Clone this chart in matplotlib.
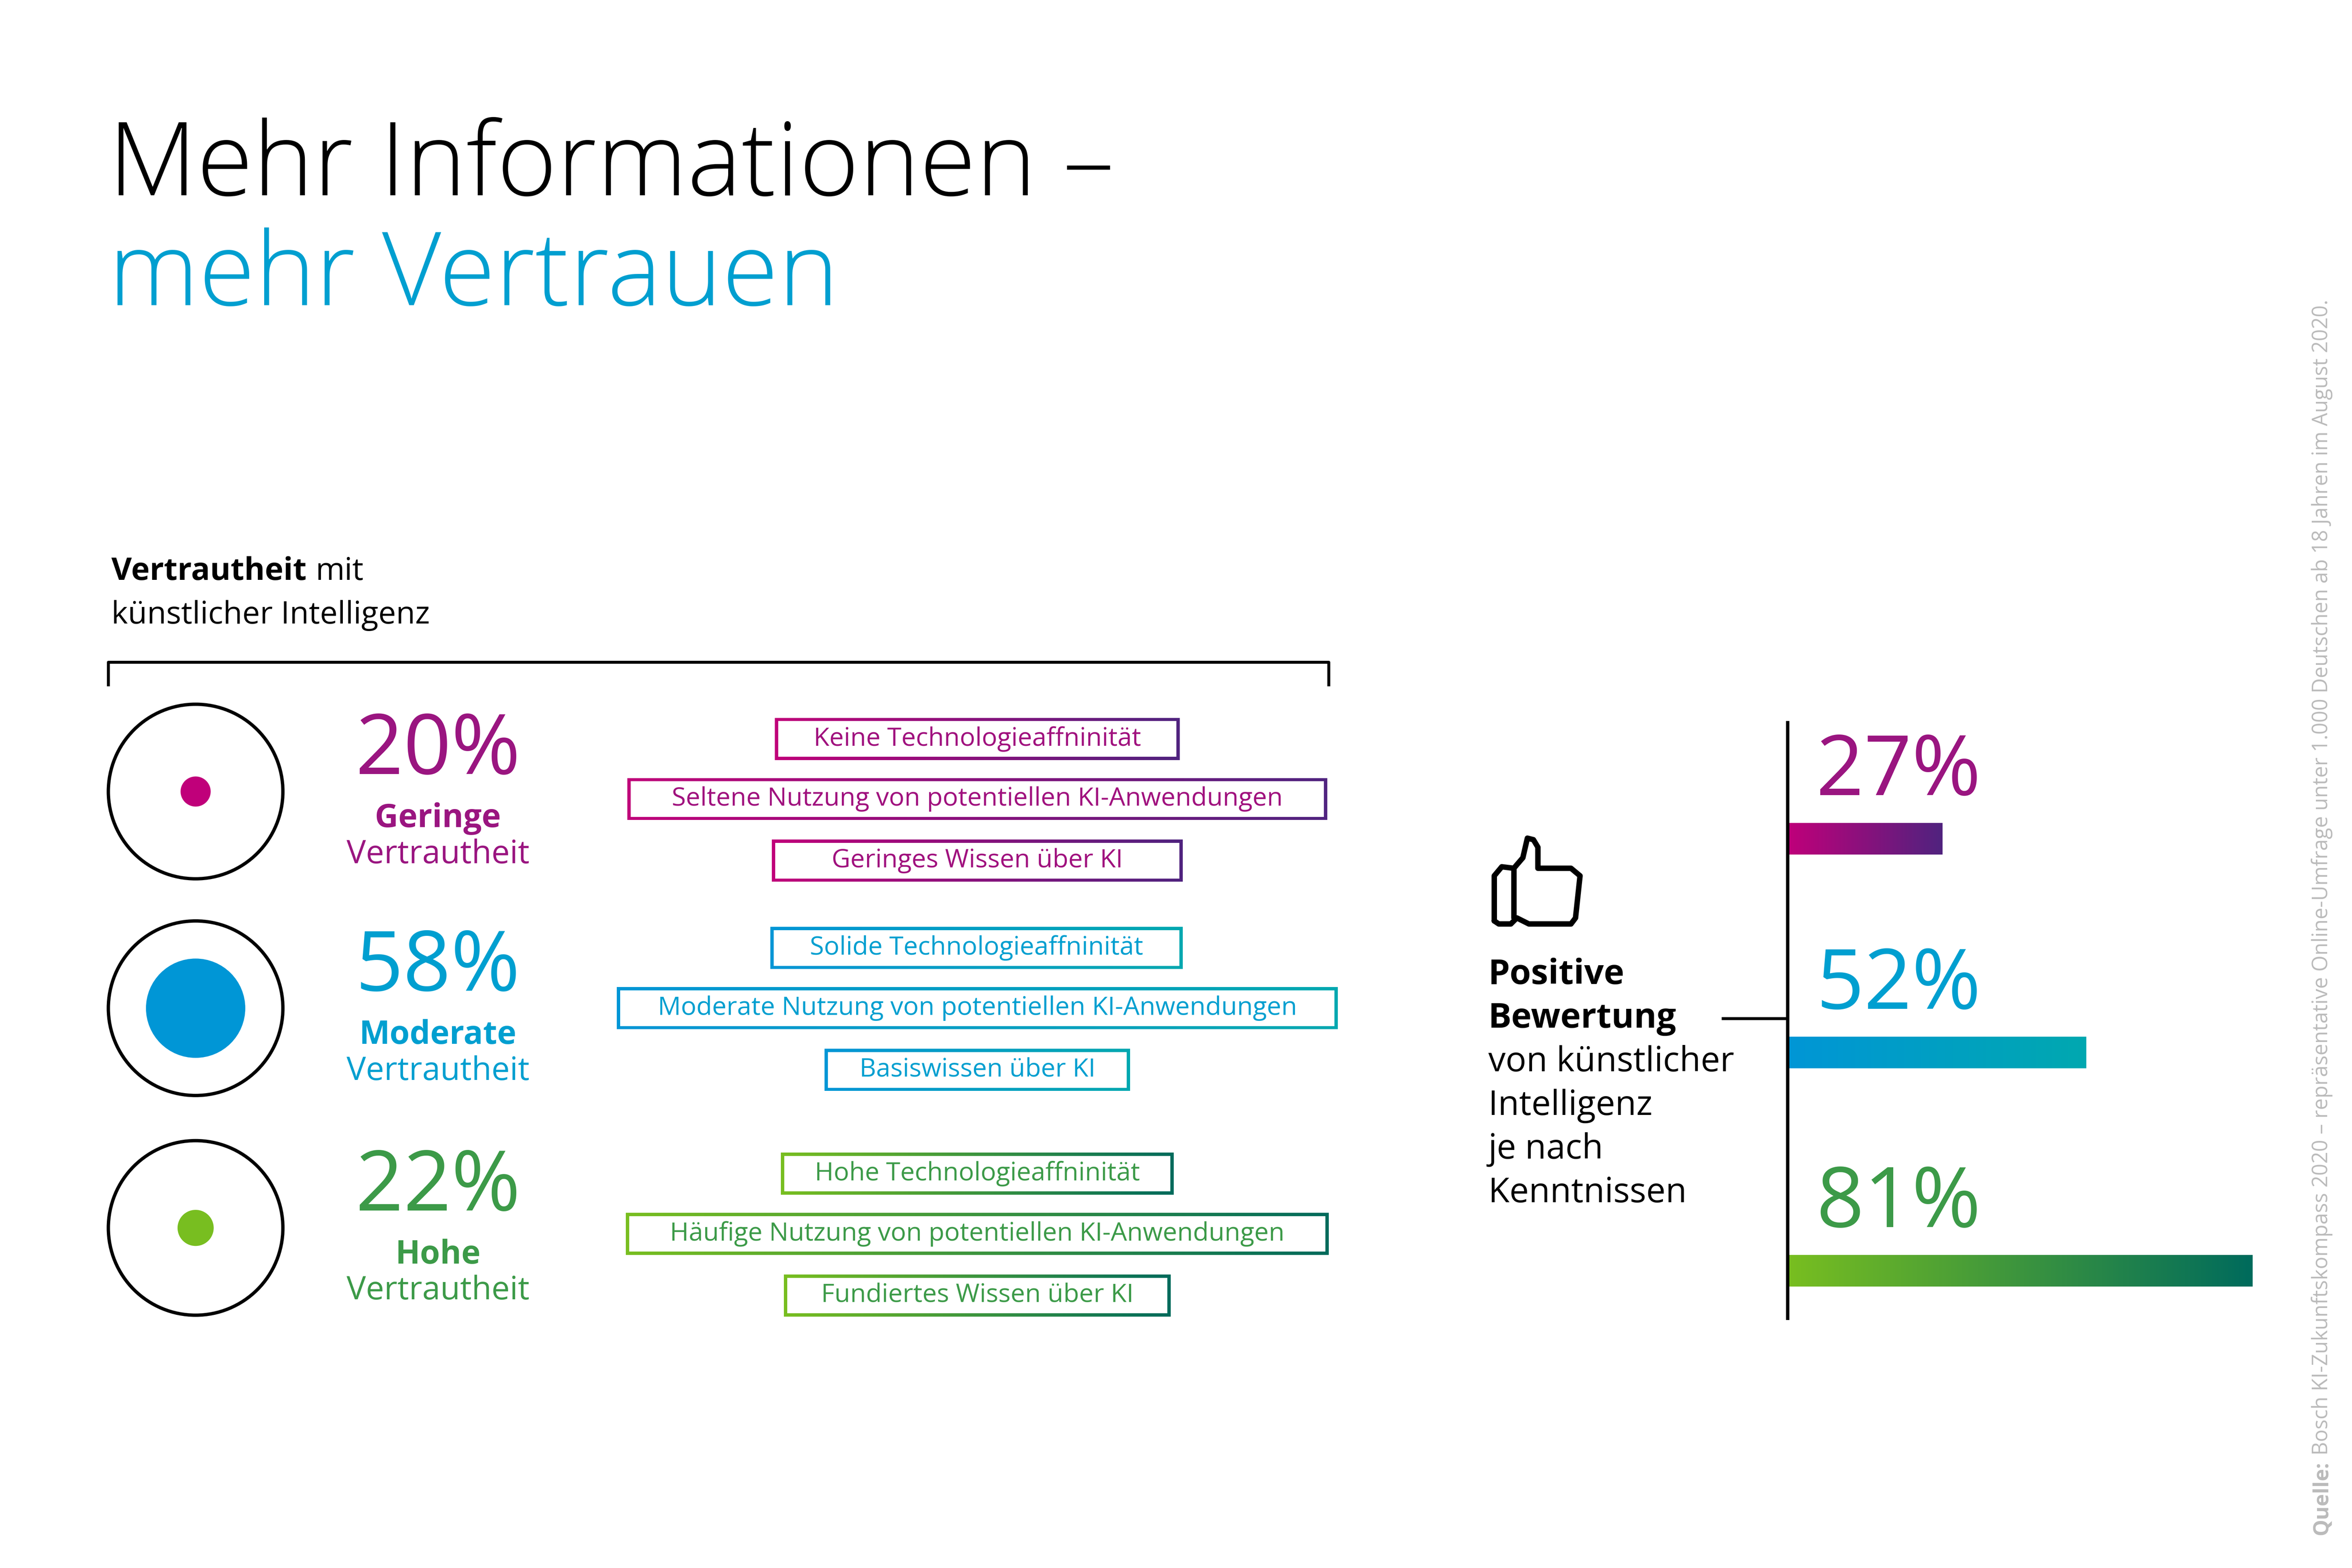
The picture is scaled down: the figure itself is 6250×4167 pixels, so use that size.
import matplotlib
matplotlib.use("Agg")
import matplotlib.pyplot as plt
import numpy as np
from matplotlib.colors import LinearSegmentedColormap
from matplotlib.path import Path
from matplotlib.patches import PathPatch, Circle

plt.rcParams['font.family'] = ['Open Sans', 'DejaVu Sans']

# ---- data ----
levels = ["Geringe", "Moderate", "Hohe"]
shares = [20, 58, 22]
dot_radius = [10, 33, 12]
positive = [27, 52, 81]
features = [
    ["Keine Technologieaffninität", "Seltene Nutzung von potentiellen KI-Anwendungen", "Geringes Wissen über KI"],
    ["Solide Technologieaffninität", "Moderate Nutzung von potentiellen KI-Anwendungen", "Basiswissen über KI"],
    ["Hohe Technologieaffninität", "Häufige Nutzung von potentiellen KI-Anwendungen", "Fundiertes Wissen über KI"],
]
box_x = [[(515, 784), (417, 882), (513, 786)],
         [(512, 786), (410, 889), (548, 751)],
         [(519, 780), (416, 883), (521, 778)]]
grads = [("#C0007A", "#50237F"), ("#0096D6", "#00A8B0"), ("#78BE20", "#006B5C")]
solid = ["#C0007A", "#0096D6", "#78BE20"]
txtcol = ["#9A1580", "#009FD0", "#3C9A48"]

fig = plt.figure(figsize=(6250/400, 4167/400), dpi=400)
ax = fig.add_axes([0, 0, 1, 1])
ax.set_xlim(0, 1563); ax.set_ylim(1042, 0); ax.axis('off')
renderer = fig.canvas.get_renderer()

def grad_img(x0, x1, y0, y1, c, clip=None):
    cm = LinearSegmentedColormap.from_list("g", list(c))
    im = ax.imshow(np.linspace(0, 1, 256)[None, :], cmap=cm, aspect='auto',
                   extent=(x0, x1, y1, y0), interpolation='bilinear', zorder=3)
    if clip is not None:
        im.set_clip_path(clip)
    return im

def ring_box(x0, x1, y0, y1, c, t=2.2):
    outer = [(x0, y0), (x1, y0), (x1, y1), (x0, y1), (x0, y0)]
    inner = [(x0+t, y0+t), (x0+t, y1-t), (x1-t, y1-t), (x1-t, y0+t), (x0+t, y0+t)]
    codes = [Path.MOVETO] + [Path.LINETO]*3 + [Path.CLOSEPOLY] + [Path.MOVETO] + [Path.LINETO]*3 + [Path.CLOSEPOLY]
    p = PathPatch(Path(outer + inner, codes), facecolor='none', edgecolor='none', transform=ax.transData)
    ax.add_patch(p)
    grad_img(x0, x1, y0, y1, c, clip=p)

def width_data(t):
    bb = t.get_window_extent(renderer)
    inv = ax.transData.inverted()
    (a, b), (c, d) = inv.transform([(bb.x0, bb.y0), (bb.x1, bb.y1)])
    return abs(c - a), abs(d - b)

# title
ax.text(72, 112, "Mehr Informationen –", fontsize=49, color='black', va='center', ha='left', fontweight='light')
ax.text(72, 185, "mehr Vertrauen", fontsize=49, color='#009FD0', va='center', ha='left', fontweight='light')

# heading
t = ax.text(74, 380, "Vertrautheit", fontsize=15, va='center', fontweight='bold')
w, _ = width_data(t)
ax.text(74 + w + 6, 380, "mit", fontsize=15, va='center')
ax.text(74, 409, "künstlicher Intelligenz", fontsize=15, va='center')
ax.plot([72, 72, 883, 883], [455, 440, 440, 455], color='black', lw=1.4)

row_y = [526, 670, 816]
box_dy = [[491, 531, 572], [630, 670, 711], [780, 820, 861]]
for i in range(3):
    y = row_y[i]
    ax.add_patch(Circle((130, y), 58, fill=False, ec='black', lw=1.6, zorder=2))
    ax.add_patch(Circle((130, y), dot_radius[i], color=solid[i], lw=0, zorder=2))
    ax.text(291, y - 26, f"{shares[i]}%", fontsize=40, color=txtcol[i], ha='center', va='center')
    ax.text(291, y + 18, levels[i], fontsize=15.5, color=txtcol[i], ha='center', va='center', fontweight='bold')
    ax.text(291, y + 42, "Vertrautheit", fontsize=15.5, color=txtcol[i], ha='center', va='center')
    for j in range(3):
        x0, x1 = box_x[i][j]
        cy = box_dy[i][j]
        ring_box(x0, x1, cy - 14, cy + 14, grads[i])
        ax.text((x0 + x1) / 2, cy, features[i][j], fontsize=12.3, color=txtcol[i] if i else "#A0117E",
                ha='center', va='center')

# thumbs up icon
thumb = [(993, 612), (993, 582), (998, 576), (1006, 577), (1012, 570), (1015, 557), (1019, 558), (1022, 563),
         (1022, 577), (1044, 577), (1050, 582), (1047, 610), (1044, 614), (1016, 614), (1008, 610), (1004, 614), (996, 614), (993, 612)]
ax.plot([p[0] for p in thumb], [p[1] for p in thumb], color='black', lw=2.6, solid_joinstyle='round', solid_capstyle='round')
ax.plot([1006, 1006], [578, 609], color='black', lw=2.6)

ax.text(989, 648, "Positive", fontsize=16.5, fontweight='bold', va='center')
ax.text(989, 677, "Bewertung", fontsize=16.5, fontweight='bold', va='center')
for k, s in enumerate(["von künstlicher", "Intelligenz", "je nach", "Kenntnissen"]):
    ax.text(989, 706 + 29*k, s, fontsize=16.5, va='center')
ax.plot([1145, 1188], [677, 677], color='black', lw=1.4)
ax.plot([1188, 1188], [480, 876], color='black', lw=1.6, zorder=5)

# bars
scale = (1497 - 1188) / 81
bar_top = [547, 689, 834]
for i, v in enumerate(positive):
    grad_img(1188, 1188 + v*scale, bar_top[i], bar_top[i] + 21, grads[i])
    ax.text(1207, bar_top[i] - 33, f"{v}%", fontsize=40, color=txtcol[i], ha='left', va='center')

# source (rotated)
q = ax.text(1543, 1020, "Quelle:", rotation=90, fontsize=10, color='#BBBBBB', ha='center', va='bottom', fontweight='bold')
_, h = width_data(q)
ax.text(1543, 1020 - h - 4, "Bosch KI-Zukunftskompass 2020 – repräsentative Online-Umfrage unter 1.000 Deutschen ab 18 Jahren im August 2020.",
        rotation=90, fontsize=10, color='#BBBBBB', ha='center', va='bottom')

fig.savefig("out.png", dpi=400, facecolor='white')
